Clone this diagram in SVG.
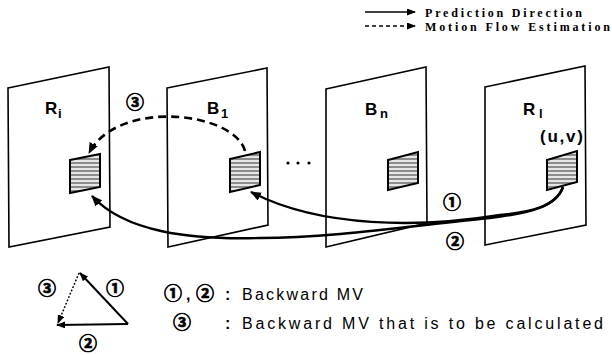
<svg xmlns="http://www.w3.org/2000/svg" width="612" height="355" viewBox="0 0 612 355">
<defs>
<style>
.frame{fill:none;stroke:#000;stroke-width:1.6}
.block{fill:url(#hatch);stroke:#000;stroke-width:2}
.lbl{font-family:"Liberation Sans",Arial,sans-serif;font-weight:bold;font-size:17px;fill:#000}
.sub{font-family:"Liberation Sans",Arial,sans-serif;font-weight:bold;font-size:13px;fill:#000}
.circ{font-family:"Noto Sans CJK JP","DejaVu Sans",sans-serif;font-weight:bold;font-size:18px;fill:#000;stroke:#000;stroke-width:0.7;text-anchor:middle}
.leg{font-family:"Liberation Serif","Times New Roman",serif;font-weight:bold;font-size:12px;fill:#000}
.txt{font-family:"Liberation Sans",Arial,sans-serif;font-size:16px;fill:#000}
.solid{fill:none;stroke:#000;stroke-width:2.4}
.dash{fill:none;stroke:#000;stroke-width:2.6;stroke-dasharray:8 5}
</style>
<pattern id="hatch" width="4" height="4" patternUnits="userSpaceOnUse">
<rect width="4" height="4" fill="#8c8c8c"/>
<rect width="4" height="2" fill="#e6e6e6"/>
</pattern>
<marker id="ah" markerUnits="userSpaceOnUse" markerWidth="11" markerHeight="9" refX="10" refY="4.5" orient="auto">
<path d="M0,0 L11,4.5 L0,9 z" fill="#000"/>
</marker>
<marker id="ahs" markerUnits="userSpaceOnUse" markerWidth="9" markerHeight="7" refX="8" refY="3.5" orient="auto">
<path d="M0,0 L9,3.5 L0,7 z" fill="#000"/>
</marker>
</defs>
<rect width="612" height="355" fill="#fff"/>

<g id="legend-top">
<line x1="365" y1="12" x2="415" y2="12" stroke="#000" stroke-width="1.5" marker-end="url(#ahs)"/>
<text class="leg" x="425" y="17" textLength="157" lengthAdjust="spacing">Prediction Direction</text>
<line x1="365" y1="26" x2="415" y2="26" stroke="#000" stroke-width="1.5" stroke-dasharray="4 3" marker-end="url(#ahs)"/>
<text class="leg" x="425" y="31" textLength="185" lengthAdjust="spacing">Motion Flow Estimation</text>
</g>

<g id="frame-Ri">
<polygon class="frame" points="8,88 109,67 110,227 9,247"/>
<text class="lbl" x="45" y="114">R</text><text class="sub" x="58" y="118">i</text>
<polygon class="block" points="70,160 100,154 100,187 70,193"/>
</g>
<g id="frame-B1">
<polygon class="frame" points="167,88 267,68 268,225 168,247"/>
<text class="lbl" x="207" y="114">B</text><text class="sub" x="221" y="118" font-size="14">1</text>
<polygon class="block" points="230,159 260,152 260,185 230,192"/>
</g>
<g id="ellipsis">
<circle cx="288" cy="163" r="1.6" fill="#000"/>
<circle cx="298" cy="163" r="1.6" fill="#000"/>
<circle cx="309" cy="163" r="1.6" fill="#000"/>
</g>
<g id="frame-Bn">
<polygon class="frame" points="326,89 426,67 427,223 326,247"/>
<text class="lbl" x="365" y="115">B</text><text class="sub" x="380" y="118">n</text>
<polygon class="block" points="388,160 418,152 418,183 388,190"/>
</g>
<g id="frame-Rl">
<polygon class="frame" points="485,87 585,66 586,225 485,245"/>
<text class="lbl" x="523" y="115" font-size="18">R</text><text class="sub" x="539" y="118" font-size="14">l</text>
<text class="lbl" x="540" y="142" font-size="14" textLength="43" lengthAdjust="spacing">(u,v)</text>
<polygon class="block" points="547,160 577,151 577,182 547,190"/>
</g>

<g id="connectors">
<path class="dash" d="M245,151 C235,112 118,98 89,153" marker-end="url(#ah)"/>
<path class="solid" stroke-width="2.8" d="M563,187 C556,207 530,212 500,215 C420,228 320,228 251,192" marker-end="url(#ah)"/>
<path class="solid" d="M563,187 C556,207 530,213 490,218 C410,226 330,238 260,238 C190,240 125,232 92,196" marker-end="url(#ah)"/>
</g>
<g id="connector-labels">
<text class="circ" x="135" y="109">③</text>
<text class="circ" x="452" y="209">①</text>
<text class="circ" x="455" y="248">②</text>
</g>

<g id="vector-triangle">
<line x1="128" y1="324" x2="80" y2="273" stroke="#000" stroke-width="2" marker-end="url(#ahs)"/>
<line x1="128" y1="324" x2="57" y2="325" stroke="#000" stroke-width="2.2" marker-end="url(#ahs)"/>
<line x1="79" y1="273" x2="58" y2="323" stroke="#000" stroke-width="1.5" stroke-dasharray="1.8 1.8" marker-end="url(#ahs)"/>
<text class="circ" x="47" y="295">③</text>
<text class="circ" x="115" y="295">①</text>
<text class="circ" x="88" y="350">②</text>
</g>

<g id="legend-bottom">
<text class="circ" x="173" y="300">①</text>
<text class="txt" x="186" y="300" font-weight="bold">,</text>
<text class="circ" x="205" y="300">②</text>
<text class="txt" x="225" y="300" font-weight="bold">:</text>
<text class="txt" x="242" y="300" textLength="121" lengthAdjust="spacing">Backward MV</text>
<text class="circ" x="182" y="329">③</text>
<text class="txt" x="225" y="329" font-weight="bold">:</text>
<text class="txt" x="242" y="329" textLength="361" lengthAdjust="spacing">Backward MV that is to be calculated</text>
</g>
</svg>
